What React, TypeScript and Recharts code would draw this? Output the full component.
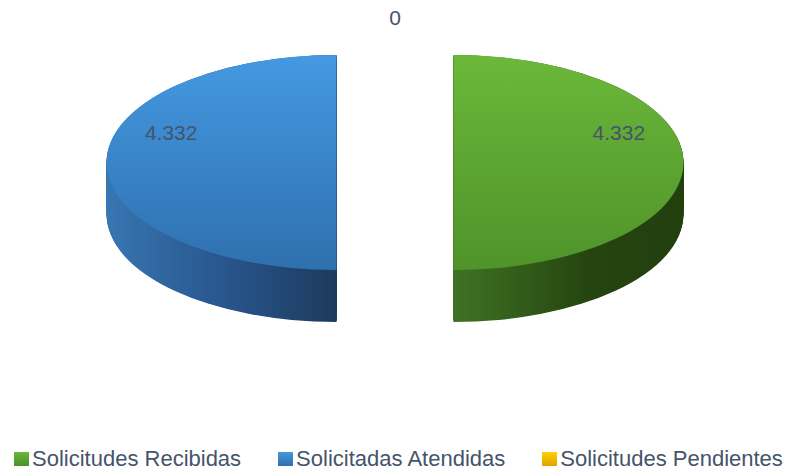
import React from "react";
import { PieChart, Pie, Cell, Legend } from "recharts";

// chart data
const categories = ["Solicitudes Recibidas", "Solicitadas Atendidas", "Solicitudes Pendientes"];
const values = [4332, 4332, 0];

// styles
const TOP_FILLS = ["url(#gTop)", "url(#bTop)", "url(#yTop)"];
const SIDE_FILLS = ["url(#gSide)", "url(#bSide)", "url(#ySide)"];
const LEGEND_TOP = ["#6ab63a", "#4598e0", "#ffd200"];
const LEGEND_BOTTOM = ["#4e9229", "#2e6fae", "#e0a200"];
const TEXT = "#44546a";
const FONT = "'Liberation Sans', Arial, sans-serif";

const W = 788;
const H = 472;
const R = 230; // horizontal radius (px)
const TILT = 107.5 / R; // vertical squash of the pie
const CX = 395;
const CY_SCREEN = 162.5;
const CY = CY_SCREEN / TILT; // centre in un-squashed space
const DEPTH = 52 / TILT;
const EXPLODE = 58.5;

const fmt = (n: number) => String(n).replace(/\B(?=(\d{3})+(?!\d))/g, ".");

const total = values.reduce((a, b) => a + b, 0);
const slices = (() => {
  let cum = 0;
  return values.map((v, i) => {
    const start = 90 - (cum / total) * 360;
    cum += v;
    const end = 90 - (cum / total) * 360;
    const mid = ((start + end) / 2) * (Math.PI / 180);
    return {
      name: categories[i],
      value: v,
      start,
      end,
      cx: CX + EXPLODE * Math.cos(mid),
      dy: -EXPLODE * Math.sin(mid),
    };
  });
})();

// stacked copies give the pie its thickness
const layers: number[] = [];
for (let d = DEPTH; d > 0; d -= 1.5) layers.push(d);
layers.push(0);

const pieData = categories.map((c, i) => ({ name: c, value: values[i] }));

function renderLabel(props: any) {
  const { cx, cy, midAngle, index, value } = props;
  const m = (midAngle * Math.PI) / 180;
  let x: number;
  let y: number;
  if (!value) {
    const r = R + 81;
    x = cx + r * Math.cos(m);
    y = cy - r * Math.sin(m) * TILT;
  } else {
    const th = m + ((Math.cos(m) >= 0 ? 21 : -21) * Math.PI) / 180;
    const r = 0.77 * R;
    x = cx + EXPLODE * Math.cos(m) + r * Math.cos(th);
    y = cy - (EXPLODE * Math.sin(m) + r * Math.sin(th)) * TILT;
  }
  return (
    <text
      key={`lbl-${index}`}
      x={x}
      y={y}
      textAnchor="middle"
      dominantBaseline="central"
      fill={TEXT}
      fontSize={21}
      fontFamily={FONT}
    >
      {fmt(value)}
    </text>
  );
}

function LegendContent() {
  return (
    <div style={{ display: "flex", alignItems: "center", paddingLeft: 14, fontFamily: FONT }}>
      {categories.map((c, i) => (
        <div key={c} style={{ display: "flex", alignItems: "center", marginRight: i < 2 ? 37 : 0 }}>
          <svg width={15} height={14} style={{ marginRight: 3 }}>
            <defs>
              <linearGradient id={`lg${i}`} x1="0" y1="0" x2="0" y2="1">
                <stop offset="0%" stopColor={LEGEND_TOP[i]} />
                <stop offset="100%" stopColor={LEGEND_BOTTOM[i]} />
              </linearGradient>
            </defs>
            <rect width={15} height={14} fill={`url(#lg${i})`} />
          </svg>
          <span style={{ fontSize: 22, color: TEXT, whiteSpace: "nowrap" }}>{c}</span>
        </div>
      ))}
    </div>
  );
}

export default function App() {
  return (
    <div style={{ position: "absolute", left: 0, top: 0, width: W, height: H, background: "#fff" }}>
      <div
        style={{
          position: "absolute",
          left: 0,
          top: 0,
          transform: `scaleY(${TILT})`,
          transformOrigin: "0 0",
        }}
      >
        <PieChart width={W} height={Math.ceil(CY + R + DEPTH + 20)} margin={{ top: 0, right: 0, bottom: 0, left: 0 }}>
          <defs>
            <linearGradient id="gTop" x1="0" y1="0" x2="0" y2="1">
              <stop offset="0%" stopColor="#6bb83a" />
              <stop offset="100%" stopColor="#4f932a" />
            </linearGradient>
            <linearGradient id="bTop" x1="0" y1="0" x2="0" y2="1">
              <stop offset="0%" stopColor="#4499e2" />
              <stop offset="100%" stopColor="#2f70ae" />
            </linearGradient>
            <linearGradient id="yTop" x1="0" y1="0" x2="0" y2="1">
              <stop offset="0%" stopColor="#ffd200" />
              <stop offset="100%" stopColor="#e0a200" />
            </linearGradient>
            <linearGradient id="gSide" x1="0" y1="0" x2="1" y2="0">
              <stop offset="0%" stopColor="#3f7224" />
              <stop offset="60%" stopColor="#25440f" />
              <stop offset="100%" stopColor="#21400e" />
            </linearGradient>
            <linearGradient id="bSide" x1="0" y1="0" x2="1" y2="0">
              <stop offset="0%" stopColor="#3876b2" />
              <stop offset="55%" stopColor="#27538a" />
              <stop offset="100%" stopColor="#1d3b5c" />
            </linearGradient>
            <linearGradient id="ySide" x1="0" y1="0" x2="1" y2="0">
              <stop offset="0%" stopColor="#b08000" />
              <stop offset="100%" stopColor="#8a6400" />
            </linearGradient>
          </defs>
          {layers.map((d) =>
            slices
              .filter((s) => s.value > 0)
              .map((s) => (
                <Pie
                  key={`${d}-${s.name}`}
                  data={[s]}
                  dataKey="value"
                  nameKey="name"
                  cx={s.cx}
                  cy={CY + s.dy + d}
                  outerRadius={R}
                  startAngle={s.start}
                  endAngle={s.end}
                  stroke="none"
                  isAnimationActive={false}
                  legendType="none"
                >
                  <Cell
                    fill={
                      d === 0
                        ? TOP_FILLS[categories.indexOf(s.name)]
                        : SIDE_FILLS[categories.indexOf(s.name)]
                    }
                  />
                </Pie>
              ))
          )}
        </PieChart>
      </div>
      <div style={{ position: "absolute", left: 0, top: 0 }}>
        <PieChart width={W} height={H} margin={{ top: 0, right: 0, bottom: 0, left: 0 }}>
          <Pie
            data={pieData}
            dataKey="value"
            nameKey="name"
            cx={CX}
            cy={CY_SCREEN}
            outerRadius={R}
            startAngle={90}
            endAngle={-270}
            fill="#000"
            fillOpacity={0}
            stroke="none"
            label={renderLabel}
            labelLine={false}
            isAnimationActive={false}
          />
          <Legend
            verticalAlign="bottom"
            align="left"
            content={<LegendContent />}
            wrapperStyle={{ left: 0, top: 446, bottom: "auto", width: W }}
          />
        </PieChart>
      </div>
    </div>
  );
}
